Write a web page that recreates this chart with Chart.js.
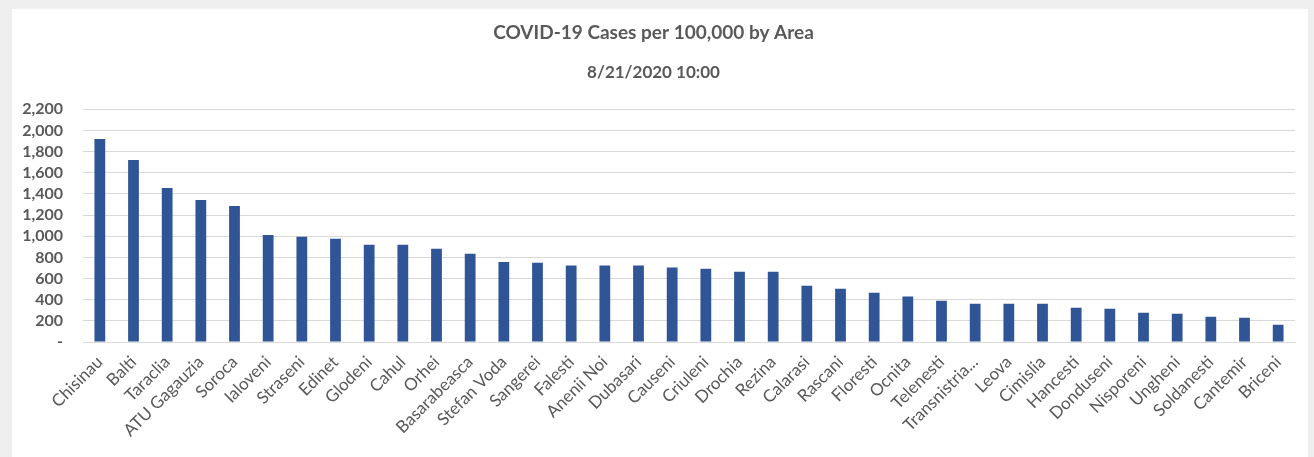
<!DOCTYPE html>
<html>
<head>
<meta charset="utf-8">
<script src="https://cdn.jsdelivr.net/npm/chart.js@4"></script>
<style>
  html, body { margin:0; padding:0; background:#efefef; }
  #card { position:absolute; left:12px; top:9px; width:1296px; height:448px; background:#fff; }
</style>
</head>
<body>
<div id="card"><canvas id="chart" width="1296" height="448"></canvas></div>
<script>
const areas = ['Chisinau','Balti','Taraclia','ATU Gagauzia','Soroca','Ialoveni','Straseni','Edinet','Glodeni','Cahul','Orhei',
  'Basarabeasca','Stefan Voda','Sangerei','Falesti','Anenii Noi','Dubasari','Causeni','Criuleni','Drochia','Rezina','Calarasi',
  'Rascani','Floresti','Ocnita','Telenesti','Transnistria...','Leova','Cimislia','Hancesti','Donduseni','Nisporeni','Ungheni',
  'Soldanesti','Cantemir','Briceni'];
const casesPer100k = [1918,1720,1455,1342,1286,1012,994,975,918,918,882,
  833,757,748,722,722,722,703,692,664,664,531,
  503,465,430,390,362,362,362,324,315,277,268,
  238,229,162];
const yTicks = [0,200,400,600,800,1000,1200,1400,1600,1800,2000,2200];

const gray = '#595959';
const font = 'Lato, "Open Sans", sans-serif';

(function(){
  const ctx = document.getElementById('chart').getContext('2d');
  new Chart(ctx, {
    type: 'bar',
    data: {
      labels: areas,
      datasets: [{
        label: 'Cases per 100,000',
        data: casesPer100k,
        backgroundColor: '#2F5597',
        categoryPercentage: 1,
        barPercentage: 0.32
      }]
    },
    options: {
      responsive: false,
      animation: false,
      layout: { padding: { left: 0, right: 13, top: 0, bottom: 0 } },
      plugins: {
        legend: { display: false },
        tooltip: { enabled: false },
        title: {
          display: true,
          text: 'COVID-19 Cases per 100,000 by Area',
          color: gray,
          font: { family: font, size: 19, weight: 'bold' },
          padding: { top: 12, bottom: 9 }
        },
        subtitle: {
          display: true,
          text: '8/21/2020 10:00',
          color: gray,
          font: { family: font, size: 17, weight: 'bold' },
          padding: { top: 10, bottom: 26 }
        }
      },
      scales: {
        x: {
          grid: { display: false },
          border: { color: '#d9d9d9' },
          ticks: {
            color: gray,
            font: { family: font, size: 17 },
            maxRotation: 45,
            minRotation: 45,
            autoSkip: false,
            padding: 2
          },
          afterFit: s => { s.height = 115; }
        },
        y: {
          min: 0,
          max: 2200,
          afterBuildTicks: s => { s.ticks = yTicks.map(v => ({ value: v })); },
          grid: { color: '#d9d9d9', drawTicks: false },
          border: { display: false },
          ticks: {
            color: gray,
            font: { family: font, size: 16, weight: 'bold', lineHeight: 1 },
            autoSkip: false,
            padding: 20,
            callback: v => v === 0 ? '-' : v.toLocaleString('en-US')
          },
          afterFit: s => { s.width = 71; }
        }
      }
    }
  });
})();
</script>
</body>
</html>
